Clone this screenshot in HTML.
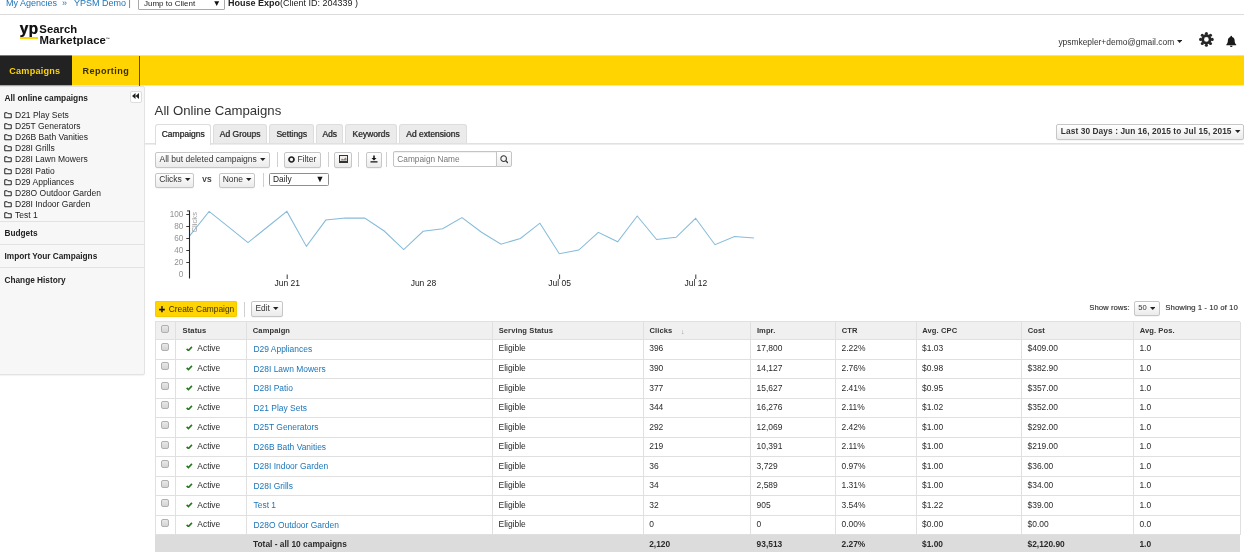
<!DOCTYPE html>
<html lang="en">
<head>
<meta charset="utf-8">
<title>All Online Campaigns</title>
<style>
*{box-sizing:border-box;margin:0;padding:0}
html,body{width:1244px;height:552px;overflow:hidden;background:#fff}
body{position:relative;font-family:"Liberation Sans",Arial,sans-serif;font-size:8.5px;color:#333;line-height:12px}
.a{position:absolute;white-space:nowrap}
.t{position:absolute;white-space:nowrap;line-height:12px;height:12px}
.b{font-weight:bold}
.lnk{color:#1b76ba !important}
.btn{position:absolute;border:1px solid #c6c6c6;border-radius:2px;background:linear-gradient(#ffffff,#ebebeb);box-shadow:0 0.5px 0.5px rgba(0,0,0,0.08);white-space:nowrap;color:#333}
.sep{position:absolute;width:1px;background:#d0d0d0}
.caret{display:inline-block;vertical-align:middle;margin-left:1px;position:relative;top:-0.3px}
.tab{position:absolute;top:124px;height:19.4px;border:1px solid #ddd;border-bottom:none;border-radius:3px 3px 0 0;background:#ebebeb;font-weight:normal;text-shadow:0.45px 0 0 rgba(51,51,51,0.9);color:#333;text-align:center;line-height:18px;font-size:8.5px}
.tab.on{background:#fff;height:21px}
.hl{position:absolute;height:1px;background:#e0e0e0}
.vl{position:absolute;width:1px;background:#e0e0e0}
.th{position:absolute;white-space:nowrap;line-height:12px;font-weight:bold;font-size:7.55px;letter-spacing:0.1px;color:#333}
.td{position:absolute;white-space:nowrap;line-height:12px;font-size:8.45px;color:#2b2b2b}
.cb{position:absolute;width:8px;height:8px;border:1px solid #b0b0b0;border-radius:2px;background:linear-gradient(#e8e8e8,#d4d4d4)}
.side{position:absolute;white-space:nowrap;line-height:12px;font-size:8.5px;color:#222}
.ax{position:absolute;white-space:nowrap;line-height:10px;font-size:8.2px;color:#929292;text-align:right}
.xl{position:absolute;white-space:nowrap;line-height:10px;font-size:8.5px;color:#222;text-align:center;width:60px}
</style>
</head>
<body>
<div class="t lnk" style="left:6px;top:-2.8px;font-size:9px">My Agencies</div>
<div class="t" style="left:62px;top:-2.8px;font-size:9px;color:#1b76ba">&raquo;</div>
<div class="t lnk" style="left:74px;top:-2.8px;font-size:9px">YPSM Demo</div>
<div class="t" style="left:128.5px;top:-2.8px;font-size:9px;color:#1b76ba">|</div>
<div class="a" style="left:138px;top:-6px;width:87px;height:16px;border:1px solid #a9a9a9;background:#fff;border-radius:1px"></div>
<div class="t" style="left:144px;top:-1.8px;font-size:8px;color:#222">Jump to Client</div>
<div class="t" style="left:212.5px;top:-2.8px;font-size:8.5px;color:#111">&#9660;</div>
<div class="t" style="left:228px;top:-2.8px;font-size:9px;color:#222"><b>House Expo</b>(Client ID: 204339 )</div>
<div class="hl" style="left:0;top:14px;width:1244px;background:#dcdcdc"></div>
<div class="a b" style="left:19.6px;top:20.5px;font-size:15.6px;line-height:16px;letter-spacing:0.2px;color:#111;text-shadow:0.35px 0 0 rgba(17,17,17,0.8)">yp</div>
<div class="a" style="left:19.5px;top:36.6px;width:18.5px;height:2px;background:#ffd400"></div>
<div class="a b" style="left:39.3px;top:23px;font-size:11.3px;line-height:12px;color:#111;letter-spacing:0.05px">Search</div>
<div class="a b" style="left:39.5px;top:33.3px;font-size:11.3px;line-height:12px;color:#111;letter-spacing:0.1px">Marketplace<span style="font-size:3.6px;vertical-align:3.6px;letter-spacing:0">&trade;</span></div>
<div class="t" style="left:1058.4px;top:36.2px;font-size:8.42px;color:#333">ypsmkepler+demo@gmail.com</div>
<svg class="a" style="left:1176.8px;top:39.6px" width="5.200" height="3" viewBox="0 0 6 3.2"><path fill="#222" d="M0 0h6L3 3.2z"/></svg>
<svg class="a" style="left:1198.7px;top:31.7px" width="14.8" height="14.8" viewBox="0 0 24 24" overflow="visible"><g fill="#262626"><path fill-rule="evenodd" d="M12 3.800a8.200 8.200 0 1 0 0 16.400a8.200 8.200 0 1 0 0-16.400zM12 8.200a3.800 3.800 0 1 1 0 7.600a3.800 3.800 0 1 1 0-7.600z"/><circle cx="21.40" cy="12.00" r="2.500"/><circle cx="18.65" cy="18.65" r="2.500"/><circle cx="12.00" cy="21.40" r="2.500"/><circle cx="5.35" cy="18.65" r="2.500"/><circle cx="2.60" cy="12.00" r="2.500"/><circle cx="5.35" cy="5.35" r="2.500"/><circle cx="12.00" cy="2.60" r="2.500"/><circle cx="18.65" cy="5.35" r="2.500"/></g></svg>
<svg class="a" style="left:1225px;top:35px" width="12.5" height="12.5" viewBox="0 0 24 24"><path fill="#1a1a1a" d="M12 1.500c1 0 1.700.7 1.700 1.700v.6c3 .8 4.800 3.400 4.800 6.700 0 4.500 1.300 6.300 3 7.800v1.200h-19v-1.200c1.700-1.500 3-3.300 3-7.800 0-3.300 1.800-5.900 4.800-6.700v-.6c0-1 .7-1.700 1.700-1.700zM9.500 20.500h5a2.500 2.500 0 01-5 0z"/></svg>
<div class="a" style="left:0;top:55px;width:1244px;height:31px;background:linear-gradient(#ffe566 0,#ffe566 1px,#ffd400 1px,#ffd400 30px,#ffec8c 30px,#ffec8c 31px)"></div>
<div class="a" style="left:0;top:55px;width:71.5px;height:31px;background:linear-gradient(#7a7a7a 0,#7a7a7a 1px,#222 1px,#222 30px,#a8a8a8 30px,#a8a8a8 31px)"></div>
<div class="a" style="left:139px;top:55.5px;width:1px;height:30px;background:#5e4f00"></div>
<div class="t b" style="left:9.3px;top:65px;font-size:9.1px;color:#ffd400;letter-spacing:0.22px">Campaigns</div>
<div class="t b" style="left:82.6px;top:65px;font-size:9.1px;color:#3a3000;letter-spacing:0.4px">Reporting</div>
<div class="a" style="left:-2px;top:86px;width:146.5px;height:289px;background:#f7f7f7;border:1px solid #e3e3e3;border-radius:2px;box-shadow:0 1px 1px rgba(0,0,0,0.05)"></div>
<div class="side b" style="left:4.5px;top:92.4px;font-size:8.35px;">All online campaigns</div>
<div class="a" style="left:130px;top:90.5px;width:11.5px;height:12.5px;border:1px solid #ddd;border-radius:2px;background:#fff"></div>
<svg class="a" style="left:131.8px;top:93.2px" width="7" height="6" viewBox="0 0 14 12"><path fill="#222" d="M7 0v12L0 6zM14 0v12L7 6z"/></svg>
<div class="side" style="left:4px;top:109.00px;padding-left:11px"><svg style="position:absolute;left:0;top:2px" width="8" height="8" viewBox="0 0 16 16"><path fill="none" stroke="#222" stroke-width="2" d="M1.500 3.500h5l1.500 2h6.500v8h-13z"/></svg>D21 Play Sets</div>
<div class="side" style="left:4px;top:120.00px;padding-left:11px"><svg style="position:absolute;left:0;top:2px" width="8" height="8" viewBox="0 0 16 16"><path fill="none" stroke="#222" stroke-width="2" d="M1.500 3.500h5l1.500 2h6.500v8h-13z"/></svg>D25T Generators</div>
<div class="side" style="left:4px;top:131.00px;padding-left:11px"><svg style="position:absolute;left:0;top:2px" width="8" height="8" viewBox="0 0 16 16"><path fill="none" stroke="#222" stroke-width="2" d="M1.500 3.500h5l1.500 2h6.500v8h-13z"/></svg>D26B Bath Vanities</div>
<div class="side" style="left:4px;top:142.00px;padding-left:11px"><svg style="position:absolute;left:0;top:2px" width="8" height="8" viewBox="0 0 16 16"><path fill="none" stroke="#222" stroke-width="2" d="M1.500 3.500h5l1.500 2h6.500v8h-13z"/></svg>D28I Grills</div>
<div class="side" style="left:4px;top:153.00px;padding-left:11px"><svg style="position:absolute;left:0;top:2px" width="8" height="8" viewBox="0 0 16 16"><path fill="none" stroke="#222" stroke-width="2" d="M1.500 3.500h5l1.500 2h6.500v8h-13z"/></svg>D28I Lawn Mowers</div>
<div class="side" style="left:4px;top:165.00px;padding-left:11px"><svg style="position:absolute;left:0;top:2px" width="8" height="8" viewBox="0 0 16 16"><path fill="none" stroke="#222" stroke-width="2" d="M1.500 3.500h5l1.500 2h6.500v8h-13z"/></svg>D28I Patio</div>
<div class="side" style="left:4px;top:176.00px;padding-left:11px"><svg style="position:absolute;left:0;top:2px" width="8" height="8" viewBox="0 0 16 16"><path fill="none" stroke="#222" stroke-width="2" d="M1.500 3.500h5l1.500 2h6.500v8h-13z"/></svg>D29 Appliances</div>
<div class="side" style="left:4px;top:187.00px;padding-left:11px"><svg style="position:absolute;left:0;top:2px" width="8" height="8" viewBox="0 0 16 16"><path fill="none" stroke="#222" stroke-width="2" d="M1.500 3.500h5l1.500 2h6.500v8h-13z"/></svg>D28O Outdoor Garden</div>
<div class="side" style="left:4px;top:198.00px;padding-left:11px"><svg style="position:absolute;left:0;top:2px" width="8" height="8" viewBox="0 0 16 16"><path fill="none" stroke="#222" stroke-width="2" d="M1.500 3.500h5l1.500 2h6.500v8h-13z"/></svg>D28I Indoor Garden</div>
<div class="side" style="left:4px;top:209.00px;padding-left:11px"><svg style="position:absolute;left:0;top:2px" width="8" height="8" viewBox="0 0 16 16"><path fill="none" stroke="#222" stroke-width="2" d="M1.500 3.500h5l1.500 2h6.500v8h-13z"/></svg>Test 1</div>
<div class="hl" style="left:0;top:221.1px;width:144px;background:#e2e2e2"></div>
<div class="hl" style="left:0;top:243.8px;width:144px;background:#e2e2e2"></div>
<div class="hl" style="left:0;top:266.6px;width:144px;background:#e2e2e2"></div>
<div class="side b" style="left:4.5px;top:227.5px;font-size:8.25px">Budgets</div>
<div class="side b" style="left:4.5px;top:250.8px;font-size:8.25px">Import Your Campaigns</div>
<div class="side b" style="left:4.5px;top:275.1px;font-size:8.25px">Change History</div>
<div class="a" style="left:154.6px;top:102.8px;font-size:13.18px;line-height:16px;color:#333">All Online Campaigns</div>
<div class="a" style="left:144.5px;top:143px;width:1100px;height:2px;background:linear-gradient(#e1e1e1 0,#e1e1e1 1px,#ededed 1px,#ededed 2px)"></div>
<div class="tab on" style="left:155.4px;width:55.2px">Campaigns</div>
<div class="tab" style="left:213.2px;width:53.5px">Ad Groups</div>
<div class="tab" style="left:269.3px;width:44.5px">Settings</div>
<div class="tab" style="left:316.3px;width:26.5px">Ads</div>
<div class="tab" style="left:345.2px;width:51.5px">Keywords</div>
<div class="tab" style="left:398.7px;width:68.1px">Ad extensions</div>
<div class="btn b" style="left:1055.8px;top:124px;width:188px;height:15.6px;line-height:13.8px;font-size:8.3px;padding-left:4px;letter-spacing:0.1px">Last 30 Days : Jun 16, 2015 to Jul 15, 2015 <svg class="caret" width="5.500" height="3" viewBox="0 0 6 3.2"><path fill="#222" d="M0 0h6L3 3.2z"/></svg></div>
<div class="btn" style="left:155.4px;top:152.0px;width:114.4px;height:15.7px;line-height:13.7px;text-align:center;">All but deleted campaigns <svg class="caret" width="5.500" height="3" viewBox="0 0 6 3.2"><path fill="#222" d="M0 0h6L3 3.2z"/></svg></div>
<div class="sep" style="left:276.5px;top:152px;height:15px"></div>
<div class="btn" style="left:284.0px;top:152.0px;width:36.7px;height:15.7px;line-height:13.7px;text-align:center;"><svg width="7" height="7" viewBox="0 0 14 14" style="vertical-align:-0.8px;margin-right:2px"><circle cx="7" cy="7" r="5" fill="none" stroke="#222" stroke-width="3.400"/></svg>Filter</div>
<div class="sep" style="left:327.5px;top:152px;height:15px"></div>
<div class="btn" style="left:334.2px;top:152.0px;width:18.0px;height:15.7px;line-height:13.7px;text-align:center;"><svg width="9" height="8" viewBox="0 0 18 16" style="vertical-align:-1.2px"><rect x="1" y="1" width="16" height="14" fill="#f1eeec" stroke="#333" stroke-width="2"/><path fill="#8a8580" d="M3 11l3-4 3 2 4-4 2 2v4z"/><path fill="#333" d="M1 12h16v3H1z"/></svg></div>
<div class="sep" style="left:358px;top:152px;height:15px"></div>
<div class="btn" style="left:366.0px;top:152.0px;width:15.9px;height:15.7px;line-height:13.7px;text-align:center;"><svg width="8" height="8" viewBox="0 0 16 16" style="vertical-align:-1.2px"><path fill="#111" d="M6.500 1h3v5h3.500L8 11 3 6h3.500zM1 12.500h14V15H1z"/></svg></div>
<div class="sep" style="left:386px;top:152px;height:15px"></div>
<div class="a" style="left:393px;top:151px;width:104px;height:16px;border:1px solid #c4c4c4;border-radius:2px 0 0 2px;background:#fff;box-shadow:inset 0 1px 1px rgba(0,0,0,0.06)"></div>
<div class="t" style="left:397.300px;top:152.600px;color:#777;font-size:8.300px">Campaign Name</div>
<div class="a" style="left:496px;top:151px;width:15.8px;height:16px;border:1px solid #c4c4c4;border-radius:0 2px 2px 0;background:linear-gradient(#fff,#eee)"></div>
<svg class="a" style="left:499.800px;top:155px" width="8.600" height="8.600" viewBox="0 0 16 16"><circle cx="6.800" cy="6.800" r="5.200" fill="none" stroke="#333" stroke-width="1.900"/><path d="M10.500 10.500l4.500 4.500" stroke="#333" stroke-width="2.400"/></svg>
<div class="btn" style="left:155.4px;top:173.0px;width:39.0px;height:14.5px;line-height:10.9px;text-align:center;">Clicks <svg class="caret" width="5.500" height="3" viewBox="0 0 6 3.2"><path fill="#222" d="M0 0h6L3 3.2z"/></svg></div>
<div class="t" style="left:202.3px;top:173.2px;font-size:8.6px;letter-spacing:0.5px;text-shadow:0.3px 0 0 rgba(51,51,51,0.6)">vs</div>
<div class="btn" style="left:219.1px;top:173.0px;width:36.4px;height:14.5px;line-height:10.9px;text-align:center;">None <svg class="caret" width="5.500" height="3" viewBox="0 0 6 3.2"><path fill="#222" d="M0 0h6L3 3.2z"/></svg></div>
<div class="sep" style="left:263px;top:172.5px;height:14.5px"></div>
<div class="a" style="left:269.3px;top:172.9px;width:60.2px;height:12.7px;border:1px solid #8f8f8f;border-radius:1.5px;background:#fff"></div>
<div class="t" style="left:273px;top:173.1px;font-size:8.4px;color:#222">Daily</div>
<div class="t" style="left:315.6px;top:173px;font-size:9px;color:#111">&#9660;</div>
<svg class="a" style="left:150px;top:200px" width="640" height="95" viewBox="0 0 640 95"><polyline points="39.6,35.8 59.1,11.4 78.5,26.9 98.0,42.6 117.4,27.0 136.9,11.4 156.4,46.4 175.8,20.1 195.3,18.1 214.7,18.1 234.2,31.0 253.7,49.6 273.1,31.3 292.6,28.7 312.0,17.6 331.5,32.2 351.0,44.2 370.4,38.5 389.9,23.2 409.3,53.7 428.8,50.1 448.3,32.4 467.7,41.8 487.2,16.0 506.6,39.5 526.1,37.3 545.6,18.3 565.0,44.7 584.5,36.6 603.9,37.9" fill="none" stroke="#86bbd9" stroke-width="1.05"/><path d="M39.5 10.500V78.500" stroke="#222" stroke-width="1.100" fill="none"/><path d="M37 10.900h2.500" stroke="#222" stroke-width="0.900" fill="none"/><path d="M36.300 14.5h3" stroke="#222" stroke-width="0.900" fill="none"/><path d="M36.300 26.5h3" stroke="#222" stroke-width="0.900" fill="none"/><path d="M36.300 38.5h3" stroke="#222" stroke-width="0.900" fill="none"/><path d="M36.300 50.5h3" stroke="#222" stroke-width="0.900" fill="none"/><path d="M36.300 62.5h3" stroke="#222" stroke-width="0.900" fill="none"/><path d="M137.2 74.5v4.500" stroke="#222" stroke-width="0.900" fill="none"/><path d="M409.6 74.5v4.500" stroke="#222" stroke-width="0.900" fill="none"/><path d="M545.8 74.5v4.500" stroke="#222" stroke-width="0.900" fill="none"/><text x="0" y="0" transform="translate(47,32.500) rotate(-90)" font-family="Liberation Sans, Arial, sans-serif" font-size="7.700" fill="#9c9c9c">Clicks</text></svg>
<div class="ax" style="left:160px;width:23.3px;top:209.8px">100</div>
<div class="ax" style="left:160px;width:23.3px;top:221.8px">80</div>
<div class="ax" style="left:160px;width:23.3px;top:233.8px">60</div>
<div class="ax" style="left:160px;width:23.3px;top:245.8px">40</div>
<div class="ax" style="left:160px;width:23.3px;top:257.8px">20</div>
<div class="ax" style="left:160px;width:23.3px;top:269.8px">0</div>
<div class="xl" style="left:257.2px;top:277.6px">Jun 21</div>
<div class="xl" style="left:393.4px;top:277.6px">Jun 28</div>
<div class="xl" style="left:529.6px;top:277.6px">Jul 05</div>
<div class="xl" style="left:665.8px;top:277.6px">Jul 12</div>
<div class="a" style="left:155.4px;top:301.3px;width:81.6px;height:15.7px;background:#ffd400;border:1px solid #f2cc00;border-radius:1px"></div>
<div class="t" style="left:158.7px;top:303.2px;font-size:8.4px;color:#3a3000"><b style="font-size:11px;color:#111;vertical-align:-0.6px;margin-right:1.2px;-webkit-text-stroke:0.3px #111">+</b> Create Campaign</div>
<div class="sep" style="left:244px;top:301.500px;height:15px"></div>
<div class="btn" style="left:251.4px;top:301.3px;width:31.4px;height:15.5px;line-height:13.5px;text-align:center;font-size:8.300px;">Edit <svg class="caret" width="5.500" height="3" viewBox="0 0 6 3.2"><path fill="#222" d="M0 0h6L3 3.2z"/></svg></div>
<div class="t" style="left:1089.3px;top:302.300px;font-size:7.600px;letter-spacing:0.1px;text-shadow:0.3px 0 0 rgba(51,51,51,0.5)">Show rows:</div>
<div class="btn" style="left:1134.0px;top:301.3px;width:25.8px;height:14.7px;line-height:11.7px;text-align:center;font-size:7.600px;">50 <svg class="caret" width="5.500" height="3" viewBox="0 0 6 3.2"><path fill="#222" d="M0 0h6L3 3.2z"/></svg></div>
<div class="t" style="left:1165.3px;top:302.300px;font-size:7.700px;letter-spacing:0.1px;text-shadow:0.3px 0 0 rgba(51,51,51,0.5)">Showing 1 - 10 of 10</div>
<div class="a" style="left:155.2px;top:321.8px;width:1085.0px;height:17.7px;background:#f0f0f0"></div>
<div class="a" style="left:155.2px;top:535px;width:1085.0px;height:17px;background:#dcdcdc"></div>
<div class="hl" style="left:155.2px;top:321.3px;width:1085.0px"></div>
<div class="hl" style="left:155.2px;top:339.0px;width:1085.0px"></div>
<div class="hl" style="left:155.2px;top:358.5px;width:1085.0px"></div>
<div class="hl" style="left:155.2px;top:378.1px;width:1085.0px"></div>
<div class="hl" style="left:155.2px;top:397.6px;width:1085.0px"></div>
<div class="hl" style="left:155.2px;top:417.1px;width:1085.0px"></div>
<div class="hl" style="left:155.2px;top:436.6px;width:1085.0px"></div>
<div class="hl" style="left:155.2px;top:456.2px;width:1085.0px"></div>
<div class="hl" style="left:155.2px;top:475.7px;width:1085.0px"></div>
<div class="hl" style="left:155.2px;top:495.2px;width:1085.0px"></div>
<div class="hl" style="left:155.2px;top:514.8px;width:1085.0px"></div>
<div class="hl" style="left:155.2px;top:534.3px;width:1085.0px"></div>
<div class="vl" style="left:154.7px;top:321.8px;height:213.0px"></div>
<div class="vl" style="left:174.8px;top:321.8px;height:213.0px"></div>
<div class="vl" style="left:246.0px;top:321.8px;height:213.0px"></div>
<div class="vl" style="left:491.9px;top:321.8px;height:213.0px"></div>
<div class="vl" style="left:642.7px;top:321.8px;height:213.0px"></div>
<div class="vl" style="left:750.1px;top:321.8px;height:213.0px"></div>
<div class="vl" style="left:835.0px;top:321.8px;height:213.0px"></div>
<div class="vl" style="left:915.5px;top:321.8px;height:213.0px"></div>
<div class="vl" style="left:1021.0px;top:321.8px;height:213.0px"></div>
<div class="vl" style="left:1132.9px;top:321.8px;height:213.0px"></div>
<div class="vl" style="left:1239.7px;top:321.8px;height:213.0px"></div>
<div class="th" style="left:182.6px;top:324.7px">Status</div>
<div class="th" style="left:252.8px;top:324.7px">Campaign</div>
<div class="th" style="left:498.7px;top:324.7px">Serving Status</div>
<div class="th" style="left:649.5px;top:324.7px">Clicks</div>
<div class="th" style="left:756.9px;top:324.7px">Impr.</div>
<div class="th" style="left:841.8px;top:324.7px">CTR</div>
<div class="th" style="left:922.3px;top:324.7px">Avg. CPC</div>
<div class="th" style="left:1027.8px;top:324.7px">Cost</div>
<div class="th" style="left:1139.7px;top:324.7px">Avg. Pos.</div>
<div class="a" style="left:681px;top:326.500px;font-size:7px;line-height:10px;color:#999">&darr;</div>
<div class="cb" style="left:161px;top:325px"></div>
<div class="cb" style="left:161px;top:343px"></div>
<div class="td" style="left:186px;top:342.4px;padding-left:11.3px"><svg style="position:absolute;left:0.3px;top:3.6px" width="6.600" height="5.500" viewBox="0 0 15 12.500"><path fill="none" stroke="#23781c" stroke-width="3.600" d="M1.500 6.500l4 4 8-8.500"/></svg>Active</div>
<div class="td lnk" style="left:253.5px;top:343.1px">D29 Appliances</div>
<div class="td" style="left:498.5px;top:342.4px">Eligible</div>
<div class="td" style="left:649.2px;top:342.4px">396</div>
<div class="td" style="left:756.6px;top:342.4px">17,800</div>
<div class="td" style="left:841.5px;top:342.4px">2.22%</div>
<div class="td" style="left:922.0px;top:342.4px">$1.03</div>
<div class="td" style="left:1027.5px;top:342.4px">$409.00</div>
<div class="td" style="left:1139.4px;top:342.4px">1.0</div>
<div class="cb" style="left:161px;top:362px"></div>
<div class="td" style="left:186px;top:361.9px;padding-left:11.3px"><svg style="position:absolute;left:0.3px;top:3.6px" width="6.600" height="5.500" viewBox="0 0 15 12.500"><path fill="none" stroke="#23781c" stroke-width="3.600" d="M1.500 6.500l4 4 8-8.500"/></svg>Active</div>
<div class="td lnk" style="left:253.5px;top:362.6px">D28I Lawn Mowers</div>
<div class="td" style="left:498.5px;top:361.9px">Eligible</div>
<div class="td" style="left:649.2px;top:361.9px">390</div>
<div class="td" style="left:756.6px;top:361.9px">14,127</div>
<div class="td" style="left:841.5px;top:361.9px">2.76%</div>
<div class="td" style="left:922.0px;top:361.9px">$0.98</div>
<div class="td" style="left:1027.5px;top:361.9px">$382.90</div>
<div class="td" style="left:1139.4px;top:361.9px">1.0</div>
<div class="cb" style="left:161px;top:382px"></div>
<div class="td" style="left:186px;top:381.5px;padding-left:11.3px"><svg style="position:absolute;left:0.3px;top:3.6px" width="6.600" height="5.500" viewBox="0 0 15 12.500"><path fill="none" stroke="#23781c" stroke-width="3.600" d="M1.500 6.500l4 4 8-8.500"/></svg>Active</div>
<div class="td lnk" style="left:253.5px;top:382.2px">D28I Patio</div>
<div class="td" style="left:498.5px;top:381.5px">Eligible</div>
<div class="td" style="left:649.2px;top:381.5px">377</div>
<div class="td" style="left:756.6px;top:381.5px">15,627</div>
<div class="td" style="left:841.5px;top:381.5px">2.41%</div>
<div class="td" style="left:922.0px;top:381.5px">$0.95</div>
<div class="td" style="left:1027.5px;top:381.5px">$357.00</div>
<div class="td" style="left:1139.4px;top:381.5px">1.0</div>
<div class="cb" style="left:161px;top:401px"></div>
<div class="td" style="left:186px;top:401.0px;padding-left:11.3px"><svg style="position:absolute;left:0.3px;top:3.6px" width="6.600" height="5.500" viewBox="0 0 15 12.500"><path fill="none" stroke="#23781c" stroke-width="3.600" d="M1.500 6.500l4 4 8-8.500"/></svg>Active</div>
<div class="td lnk" style="left:253.5px;top:401.7px">D21 Play Sets</div>
<div class="td" style="left:498.5px;top:401.0px">Eligible</div>
<div class="td" style="left:649.2px;top:401.0px">344</div>
<div class="td" style="left:756.6px;top:401.0px">16,276</div>
<div class="td" style="left:841.5px;top:401.0px">2.11%</div>
<div class="td" style="left:922.0px;top:401.0px">$1.02</div>
<div class="td" style="left:1027.5px;top:401.0px">$352.00</div>
<div class="td" style="left:1139.4px;top:401.0px">1.0</div>
<div class="cb" style="left:161px;top:421px"></div>
<div class="td" style="left:186px;top:420.5px;padding-left:11.3px"><svg style="position:absolute;left:0.3px;top:3.6px" width="6.600" height="5.500" viewBox="0 0 15 12.500"><path fill="none" stroke="#23781c" stroke-width="3.600" d="M1.500 6.500l4 4 8-8.500"/></svg>Active</div>
<div class="td lnk" style="left:253.5px;top:421.2px">D25T Generators</div>
<div class="td" style="left:498.5px;top:420.5px">Eligible</div>
<div class="td" style="left:649.2px;top:420.5px">292</div>
<div class="td" style="left:756.6px;top:420.5px">12,069</div>
<div class="td" style="left:841.5px;top:420.5px">2.42%</div>
<div class="td" style="left:922.0px;top:420.5px">$1.00</div>
<div class="td" style="left:1027.5px;top:420.5px">$292.00</div>
<div class="td" style="left:1139.4px;top:420.5px">1.0</div>
<div class="cb" style="left:161px;top:441px"></div>
<div class="td" style="left:186px;top:440.0px;padding-left:11.3px"><svg style="position:absolute;left:0.3px;top:3.6px" width="6.600" height="5.500" viewBox="0 0 15 12.500"><path fill="none" stroke="#23781c" stroke-width="3.600" d="M1.500 6.500l4 4 8-8.500"/></svg>Active</div>
<div class="td lnk" style="left:253.5px;top:440.7px">D26B Bath Vanities</div>
<div class="td" style="left:498.5px;top:440.0px">Eligible</div>
<div class="td" style="left:649.2px;top:440.0px">219</div>
<div class="td" style="left:756.6px;top:440.0px">10,391</div>
<div class="td" style="left:841.5px;top:440.0px">2.11%</div>
<div class="td" style="left:922.0px;top:440.0px">$1.00</div>
<div class="td" style="left:1027.5px;top:440.0px">$219.00</div>
<div class="td" style="left:1139.4px;top:440.0px">1.0</div>
<div class="cb" style="left:161px;top:460px"></div>
<div class="td" style="left:186px;top:459.6px;padding-left:11.3px"><svg style="position:absolute;left:0.3px;top:3.6px" width="6.600" height="5.500" viewBox="0 0 15 12.500"><path fill="none" stroke="#23781c" stroke-width="3.600" d="M1.500 6.500l4 4 8-8.500"/></svg>Active</div>
<div class="td lnk" style="left:253.5px;top:460.3px">D28I Indoor Garden</div>
<div class="td" style="left:498.5px;top:459.6px">Eligible</div>
<div class="td" style="left:649.2px;top:459.6px">36</div>
<div class="td" style="left:756.6px;top:459.6px">3,729</div>
<div class="td" style="left:841.5px;top:459.6px">0.97%</div>
<div class="td" style="left:922.0px;top:459.6px">$1.00</div>
<div class="td" style="left:1027.5px;top:459.6px">$36.00</div>
<div class="td" style="left:1139.4px;top:459.6px">1.0</div>
<div class="cb" style="left:161px;top:480px"></div>
<div class="td" style="left:186px;top:479.1px;padding-left:11.3px"><svg style="position:absolute;left:0.3px;top:3.6px" width="6.600" height="5.500" viewBox="0 0 15 12.500"><path fill="none" stroke="#23781c" stroke-width="3.600" d="M1.500 6.500l4 4 8-8.500"/></svg>Active</div>
<div class="td lnk" style="left:253.5px;top:479.8px">D28I Grills</div>
<div class="td" style="left:498.5px;top:479.1px">Eligible</div>
<div class="td" style="left:649.2px;top:479.1px">34</div>
<div class="td" style="left:756.6px;top:479.1px">2,589</div>
<div class="td" style="left:841.5px;top:479.1px">1.31%</div>
<div class="td" style="left:922.0px;top:479.1px">$1.00</div>
<div class="td" style="left:1027.5px;top:479.1px">$34.00</div>
<div class="td" style="left:1139.4px;top:479.1px">1.0</div>
<div class="cb" style="left:161px;top:499px"></div>
<div class="td" style="left:186px;top:498.6px;padding-left:11.3px"><svg style="position:absolute;left:0.3px;top:3.6px" width="6.600" height="5.500" viewBox="0 0 15 12.500"><path fill="none" stroke="#23781c" stroke-width="3.600" d="M1.500 6.500l4 4 8-8.500"/></svg>Active</div>
<div class="td lnk" style="left:253.5px;top:499.3px">Test 1</div>
<div class="td" style="left:498.5px;top:498.6px">Eligible</div>
<div class="td" style="left:649.2px;top:498.6px">32</div>
<div class="td" style="left:756.6px;top:498.6px">905</div>
<div class="td" style="left:841.5px;top:498.6px">3.54%</div>
<div class="td" style="left:922.0px;top:498.6px">$1.22</div>
<div class="td" style="left:1027.5px;top:498.6px">$39.00</div>
<div class="td" style="left:1139.4px;top:498.6px">1.0</div>
<div class="cb" style="left:161px;top:519px"></div>
<div class="td" style="left:186px;top:518.2px;padding-left:11.3px"><svg style="position:absolute;left:0.3px;top:3.6px" width="6.600" height="5.500" viewBox="0 0 15 12.500"><path fill="none" stroke="#23781c" stroke-width="3.600" d="M1.500 6.500l4 4 8-8.500"/></svg>Active</div>
<div class="td lnk" style="left:253.5px;top:518.9px">D28O Outdoor Garden</div>
<div class="td" style="left:498.5px;top:518.2px">Eligible</div>
<div class="td" style="left:649.2px;top:518.2px">0</div>
<div class="td" style="left:756.6px;top:518.2px">0</div>
<div class="td" style="left:841.5px;top:518.2px">0.00%</div>
<div class="td" style="left:922.0px;top:518.2px">$0.00</div>
<div class="td" style="left:1027.5px;top:518.2px">$0.00</div>
<div class="td" style="left:1139.4px;top:518.2px">0.0</div>
<div class="td b" style="left:253px;top:537.5px;font-size:8.4px;letter-spacing:0">Total - all 10 campaigns</div>
<div class="td b" style="left:649.2px;top:537.5px;font-size:8.4px;letter-spacing:0">2,120</div>
<div class="td b" style="left:756.6px;top:537.5px;font-size:8.4px;letter-spacing:0">93,513</div>
<div class="td b" style="left:841.5px;top:537.5px;font-size:8.4px;letter-spacing:0">2.27%</div>
<div class="td b" style="left:922.0px;top:537.5px;font-size:8.4px;letter-spacing:0">$1.00</div>
<div class="td b" style="left:1027.5px;top:537.5px;font-size:8.4px;letter-spacing:0">$2,120.90</div>
<div class="td b" style="left:1139.4px;top:537.5px;font-size:8.4px;letter-spacing:0">1.0</div>
</body>
</html>
